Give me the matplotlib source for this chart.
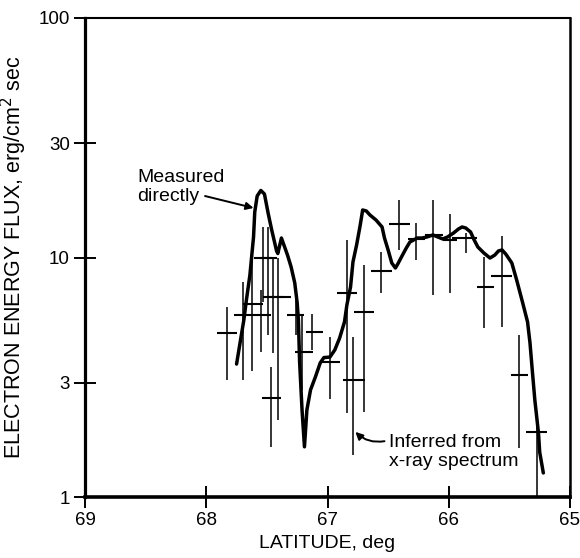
import matplotlib
matplotlib.use("Agg")
import matplotlib.pyplot as plt
import numpy as np

# ---------------- data ----------------
curve_lat = [67.75, 67.72, 67.69, 67.67, 67.64, 67.61, 67.60, 67.58, 67.55, 67.52,
             67.49, 67.46, 67.42, 67.41, 67.38, 67.33, 67.30, 67.27, 67.25, 67.24,
             67.23, 67.21, 67.19, 67.17, 67.14, 67.10, 67.06, 67.03, 66.98, 66.94,
             66.90, 66.86, 66.84, 66.81, 66.79, 66.76, 66.73, 66.71, 66.68, 66.65,
             66.60, 66.55, 66.53, 66.50, 66.47, 66.44, 66.42, 66.39, 66.35, 66.32,
             66.26, 66.22, 66.18, 66.13, 66.09, 66.05, 66.01, 65.96, 65.92, 65.89,
             65.86, 65.82, 65.79, 65.76, 65.71, 65.66, 65.62, 65.59, 65.56, 65.53,
             65.48, 65.44, 65.39, 65.35, 65.33, 65.31, 65.29, 65.26, 65.25, 65.22]
curve_flux = [3.59, 4.44, 5.48, 6.58, 8.45, 12.18, 15.49, 18.06, 19.05, 18.41,
              15.34, 13.02, 10.65, 10.39, 12.06, 10.24, 9.13, 7.83, 6.46, 5.48,
              3.66, 2.31, 1.62, 2.31, 2.80, 3.17, 3.63, 3.82, 3.84, 4.11,
              4.61, 5.38, 6.34, 7.53, 9.58, 11.28, 13.67, 15.79, 15.64, 15.05,
              14.34, 13.41, 12.06, 10.75, 9.49, 9.04, 9.40, 10.05, 10.96, 11.61,
              12.06, 12.06, 12.18, 12.42, 12.18, 11.95, 12.18, 12.66, 13.15, 13.41,
              13.28, 12.78, 11.83, 11.06, 10.44, 9.95, 10.24, 10.65, 10.75, 10.34,
              9.49, 8.06, 6.46, 5.38, 4.40, 3.33, 2.54, 1.85, 1.54, 1.26]

cross_lat = [67.83, 67.70, 67.62, 67.55, 67.53, 67.49, 67.45, 67.41, 67.47, 67.26,
             67.21, 67.13, 66.98, 66.84, 66.79, 66.70, 66.56, 66.41, 66.27, 66.13,
             65.99, 65.86, 65.71, 65.56, 65.42, 65.27]
cross_lat_left = [67.91, 67.77, 67.70, 67.62, 67.61, 67.56, 67.53, 67.49, 67.54, 67.33,
                  67.27, 67.18, 67.06, 66.92, 66.87, 66.78, 66.64, 66.49, 66.34, 66.20,
                  66.05, 65.97, 65.77, 65.65, 65.49, 65.36]
cross_lat_right = [67.75, 67.62, 67.53, 67.47, 67.46, 67.42, 67.36, 67.30, 67.38, 67.19,
                   67.12, 67.04, 66.90, 66.76, 66.69, 66.62, 66.47, 66.32, 66.20, 66.05,
                   65.93, 65.77, 65.63, 65.48, 65.35, 65.19]
cross_flux = [4.83, 5.75, 6.39, 5.75, 9.95, 9.95, 6.84, 6.84, 2.58, 5.75,
              4.03, 4.87, 3.65, 7.09, 3.08, 5.90, 8.80, 13.8, 11.9, 12.4,
              11.83, 12.1, 7.55, 8.40, 3.23, 1.86]
cross_flux_hi = [6.23, 7.90, 9.76, 7.32, 13.41, 13.41, 9.95, 9.95, 3.49, 6.64,
                 5.75, 5.81, 4.66, 11.83, 4.66, 9.30, 10.57, 17.4, 13.93, 17.4,
                 15.19, 12.6, 10.08, 12.30, 4.75, 2.16]
cross_flux_lo = [3.08, 3.08, 3.36, 4.03, 6.52, 4.75, 3.99, 2.10, 1.62, 4.75,
                 2.80, 4.11, 2.57, 2.24, 1.50, 2.27, 7.09, 10.75, 9.76, 6.97,
                 7.11, 10.44, 5.06, 5.14, 1.60, 1.00]

x_ticks = [69, 68, 67, 66, 65]
y_ticks = [1, 3, 10, 30, 100]
y_tick_labels = ["1", "3", "10", "30", "100"]

# ---------------- figure ----------------
plt.rcParams['font.family'] = ['Liberation Sans', 'DejaVu Sans']
FS = 14
TFS = 13.5

fig = plt.figure(figsize=(5.80, 5.58), dpi=100)
ax = fig.add_axes([85 / 580, 61 / 558, 485 / 580, 479 / 558])

ax.set_yscale('log')
ax.set_xlim(69, 65)
ax.set_ylim(1, 100)

ax.vlines(cross_lat, cross_flux_lo, cross_flux_hi, colors='black', linewidth=1.1, zorder=2)
ax.hlines(cross_flux, cross_lat_right, cross_lat_left, colors='black', linewidth=1.5, zorder=2)
ax.plot(curve_lat, curve_flux, color='black', linewidth=2.5, zorder=3,
        solid_joinstyle='round', solid_capstyle='round')

ax.set_xticks(x_ticks)
ax.set_xticklabels([str(t) for t in x_ticks])
ax.set_yticks(y_ticks)
ax.set_yticklabels(y_tick_labels)
ax.yaxis.set_minor_locator(matplotlib.ticker.NullLocator())
ax.tick_params(axis='both', which='major', direction='inout', length=16, width=1.4,
               labelsize=TFS, pad=3, colors='black')

for side, lw in (('left', 2.3), ('bottom', 2.6), ('top', 1.5), ('right', 1.8)):
    ax.spines[side].set_linewidth(lw)

ax.set_xlabel('LATITUDE, deg', fontsize=FS, labelpad=4)
ax.set_ylabel('ELECTRON ENERGY FLUX, erg/cm$^2$ sec', fontsize=15.5)
ax.yaxis.set_label_coords(-0.116, 0.5)

ax.text(68.57, 19.7, 'Measured\ndirectly', ha='left', va='center',
        fontsize=FS, linespacing=1.1)
ax.annotate('', xy=(67.61, 16.1), xytext=(68.01, 18.06),
            arrowprops=dict(arrowstyle='-|>', color='black', lw=1.4,
                            mutation_scale=11, shrinkA=0, shrinkB=0))

ax.text(66.49, 1.54, 'Inferred from\nx-ray spectrum', ha='left', va='center',
        fontsize=FS, linespacing=1.1)
ax.annotate('', xy=(66.77, 1.87), xytext=(66.53, 1.71),
            arrowprops=dict(arrowstyle='-|>', color='black', lw=1.4,
                            mutation_scale=11, shrinkA=0, shrinkB=0,
                            connectionstyle='arc3,rad=-0.25'))

fig.savefig('out.png', dpi=100)
